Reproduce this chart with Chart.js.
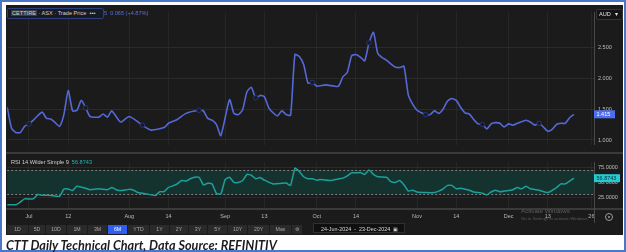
<!DOCTYPE html>
<html>
<head>
<meta charset="utf-8">
<script src="https://cdn.jsdelivr.net/npm/chart.js@4/dist/chart.umd.min.js"></script>
<style>
  body { margin: 0; background: #fff; }
  #wrap { position: relative; width: 626px; height: 252px; overflow: hidden; font-family: "Liberation Sans", Arial, sans-serif; }
  #frame { position: absolute; left: 0; top: 0; width: 622px; height: 248px; border: 2px solid #4a78c8; }
  #panel { position: absolute; left: 6px; top: 5px; width: 617px; height: 230px; background: #1b1b1b; }
  canvas { position: absolute; }
  .abs { position: absolute; white-space: nowrap; }
  .sep { position: absolute; left: 6px; width: 617px; height: 2px; background: #3a3a3a; }
  #legend { left: 7px; top: 8px; width: 92px; height: 9px; border: 1px solid #2b3f80; border-radius: 2px;
            background: #171a22; color: #d0d0d0; font-size: 5.6px; line-height: 9px; padding-left: 3px; z-index: 3; }
  #legend .hl { background: #3b3b3b; padding: 0 1px; }
  .chg { color: #5a70e0; font-size: 5.6px; line-height: 9px; }
  #aud { left: 596px; top: 9px; width: 23px; height: 9px; border: 1px solid #333; border-radius: 2px; background: #141414;
         color: #e0e0e0; font-size: 5.6px; line-height: 9px; padding-left: 2px; box-sizing: content-box; }
  #rsiLeg { left: 11px; top: 159px; font-size: 5.6px; color: #cfcfcf; }
  #rsiLeg span { color: #20b8b8; margin-left: 3px; }
  #buttons { left: 7px; top: 225px; height: 9px; display: flex; gap: 1px; }
  #buttons div { height: 9px; line-height: 9px; background: #2a2a2a; color: #a8a8a8; font-size: 5.2px; text-align: center; }
  #buttons div.on { background: #2f5ff0; color: #fff; }
  #range { left: 313px; top: 223px; width: 92px; height: 10px; border: 1px solid #303030; background: #101010;
           color: #d8d8d8; font-size: 5.4px; line-height: 10px; padding-left: 7px; box-sizing: border-box; }
  #gear { left: 605px; top: 213px; width: 6px; height: 6px; border: 1px solid #9a9a9a; border-radius: 50%; }
  #gear:after { content: ""; position: absolute; left: 2px; top: 2px; width: 2px; height: 2px; border-radius: 50%; background: #9a9a9a; }
  #win1 { left: 521px; top: 207px; font-size: 6.2px; color: #5e5e5e; }
  #win2 { left: 521px; top: 216px; font-size: 4.3px; color: #5a5a5a; }
  #caption { left: 6px; top: 237px; font-family: Lato, "Liberation Sans", sans-serif; font-weight: bold; font-style: italic;
             font-size: 13px; color: #1d1d1d; transform-origin: 0 0; }
</style>
</head>
<body>
<div id="wrap">
  <div id="frame"></div>
  <div id="panel"></div>
  <canvas id="priceChart" width="617" height="147" style="left:6px;top:5px"></canvas>
  <canvas id="rsiChart" width="617" height="68" style="left:6px;top:155px"></canvas>
  <div class="sep" style="top:152px"></div>
  <div class="sep" style="top:208px;height:2px"></div>
  <div class="abs" style="left:594px;top:208px;width:1px;height:15px;background:#4a4a4a"></div>

  <div class="abs chg" style="left:88px;top:9px;width:19px;text-align:right">1.415</div>
  <div class="abs chg" style="left:110px;top:9px">0.065 (+4.87%)</div>
  <div class="abs" id="legend"><span class="hl">CETTIRE</span> · ASX · Trade Price &nbsp;•••</div>
  <div class="abs" id="aud">AUD &nbsp;&nbsp;▾</div>
  <div class="abs" id="rsiLeg">RSI 14 Wilder Simple 9<span>56.8743</span></div>

  <div class="abs" id="win1">Activate Windows</div>
  <div class="abs" id="win2">Go to Settings to activate Windows.</div>
  <div class="abs" id="gear"></div>

  <div class="abs" id="buttons">
    <div style="width:21px">1D</div><div style="width:16px">5D</div><div style="width:20px">10D</div>
    <div style="width:20px">1M</div><div style="width:19px">3M</div><div class="on" style="width:19px">6M</div>
    <div style="width:21px">YTD</div><div style="width:19px">1Y</div><div style="width:18px">2Y</div>
    <div style="width:18px">3Y</div><div style="width:19px">5Y</div><div style="width:19px">10Y</div>
    <div style="width:21px">20Y</div><div style="width:21px">Max</div><div style="width:10px">⚙</div>
  </div>
  <div class="abs" id="range">24-Jun-2024 &nbsp;-&nbsp; 23-Dec-2024 &nbsp;▣</div>

  <div class="abs" id="caption">CTT Daily Technical Chart, Data Source: REFINITIV</div>
</div>

<script>
const FONT = '"Liberation Sans", Arial, sans-serif';

// x = trading day index counted from 24-Jun-2024
const tickDays   = [5, 14, 28, 37, 50, 59, 71, 80, 94, 103, 115, 124, 134];
const tickLabels = ['Jul', '12', 'Aug', '14', 'Sep', '13', 'Oct', '14', 'Nov', '14', 'Dec', '13', '26'];

const priceTicks = [1.0, 1.5, 2.0, 2.5];
const rsiTicks   = [25, 50, 75];
const rsiBand    = [30, 70];

const lastPrice = 1.415;
const lastRsi   = 56.8743;

// small event markers on the price line
const markerDays = [5, 18, 31, 44, 57, 70, 83, 96, 109, 122];

const priceDays = [0, 1, 2, 3, 4, 5, 6, 8, 9, 10, 11, 12, 13, 14, 15, 16, 17, 18, 19, 21, 22, 23, 24, 26, 28,
  31, 33, 36, 37, 39, 41, 44, 45, 46, 47, 48, 49, 51, 52, 53, 54, 55, 56, 57, 58, 59, 60, 61, 62, 63, 64, 65,
  66, 67, 68, 69, 70, 71, 73, 75, 76, 77, 78, 79, 80, 81, 82, 83, 84, 85, 86, 87, 88, 89, 90, 91, 92, 93, 94,
  95, 96, 97, 98, 99, 100, 101, 102, 103, 104, 105, 106, 107, 108, 109, 110, 111, 112, 113, 114, 115, 116, 117,
  119, 120, 121, 122, 123, 124, 125, 126, 127, 128, 129, 130];
const priceValues = [1.53, 1.19, 1.12, 1.12, 1.22, 1.26, 1.32, 1.45, 1.35, 1.34, 1.28, 1.22, 1.41, 1.80, 1.47, 1.48, 1.64, 1.52, 1.38, 1.37, 1.42, 1.37, 1.47, 1.29, 1.38,
  1.24, 1.16, 1.20, 1.27, 1.33, 1.43, 1.48, 1.47, 1.35, 1.32, 1.25, 1.07, 1.65, 1.43, 1.41, 1.49, 1.78, 1.85, 1.68, 1.72, 1.70, 1.52, 1.44, 1.39, 1.47, 1.41, 1.40,
  2.38, 2.35, 2.22, 1.92, 1.93, 1.87, 1.89, 1.87, 1.87, 2.02, 2.09, 2.36, 2.38, 2.34, 2.28, 2.57, 2.74, 2.40, 2.33, 2.29, 2.23, 2.18, 2.17, 2.19, 1.73, 1.58, 1.48,
  1.44, 1.41, 1.41, 1.47, 1.43, 1.50, 1.63, 1.67, 1.64, 1.53, 1.44, 1.42, 1.33, 1.26, 1.25, 1.18, 1.26, 1.28, 1.27, 1.21, 1.26, 1.24, 1.27,
  1.32, 1.29, 1.24, 1.27, 1.21, 1.14, 1.17, 1.25, 1.27, 1.27, 1.36, 1.415];

const rsiDays = [0, 2, 3, 4, 6, 7, 8, 10, 12, 13, 14, 15, 16, 18, 19, 21, 23, 24, 25, 26, 28, 29, 30, 32, 34, 35, 36,
  37, 38, 39, 40, 41, 42, 43, 44, 45, 46, 47, 48, 49, 50, 51, 52, 53, 54, 55, 56, 57, 58, 59, 61, 63, 64, 65,
  66, 67, 68, 69, 70, 71, 72, 74, 76, 77, 78, 79, 80, 81, 82, 83, 84, 85, 87, 88, 89, 90, 91, 92, 93, 94, 96,
  98, 99, 100, 101, 102, 103, 104, 106, 107, 109, 110, 111, 112, 113, 114, 116, 117, 118, 119, 120, 122, 124,
  126, 127, 128, 130];
const rsiValues = [13.1, 13, 17.4, 22.7, 22.7, 29.9, 28.9, 28.4, 27, 38.9, 38.9, 36.4, 43.6, 40.3, 37.9, 39.3, 37.9, 41.3, 37.9, 36.4, 38.4, 37, 33.1, 30.7, 28.4, 34.6, 34.6,
  41.7, 44.1, 47.4, 53.1, 52.1, 56, 58.4, 58.4, 46, 48.4, 47.4, 31.7, 30.7, 54.6, 58.4, 49.9, 49.9, 53.1, 63.1, 61.7, 56, 57.9, 53.6, 47.4, 48.4, 48.9, 45,
  73.6, 67.9, 59.3, 56, 56, 53.6, 54.6, 53.1, 55.6, 57, 60.7, 65.6, 65.6, 66.4, 63.1, 70.3, 63.1, 59.3, 58.4, 51.3, 49.9, 53.1, 46, 35.6, 37, 34.1, 33.1,
  33.1, 35.6, 39.3, 45, 45, 39.3, 40.3, 37, 34.1, 32.1, 29.3, 34.1, 37, 34.6, 35.6, 37.9, 41.3, 39.3, 43.6, 39.3, 37, 33.1,
  41.3, 47.4, 47.4, 56.87];

function xScale(showLabels) {
  return {
    type: 'linear', min: 0, max: 134.6,
    afterBuildTicks: s => { s.ticks = tickDays.map(v => ({ value: v })); },
    afterFit: s => { s.height = showLabels ? 14 : 0; },
    grid: { color: '#272727', drawTicks: false },
    border: { display: false },
    ticks: {
      display: showLabels, autoSkip: false, maxRotation: 0, padding: 4, color: '#b8b8b8',
      font: { size: 5.5, family: FONT }, callback: (v, i) => tickLabels[i]
    }
  };
}

function yScale(min, max, ticks, digits) {
  return {
    position: 'right', min, max,
    afterBuildTicks: s => { s.ticks = ticks.map(v => ({ value: v })); },
    afterFit: s => { s.width = 29; },
    grid: { color: '#2a2a2a', drawTicks: false },
    border: { color: '#4a4a4a' },
    ticks: { padding: 4, color: '#bdbdbd', font: { size: 5.5, family: FONT }, callback: v => v.toFixed(digits) }
  };
}

function tagPlugin(value, text, bg, fg, w) {
  return {
    id: 'lastTag',
    afterDraw(chart) {
      const { ctx, chartArea, scales } = chart;
      const y = scales.y.getPixelForValue(value);
      ctx.save();
      ctx.fillStyle = bg;
      ctx.fillRect(chartArea.right, y - 4, w, 8);
      ctx.fillStyle = fg;
      ctx.font = '5.5px ' + FONT;
      ctx.textBaseline = 'middle';
      ctx.fillText(text, chartArea.right + 2.5, y + 0.5);
      ctx.restore();
    }
  };
}

// shaded 30-70 zone with dashed edges
const bandPlugin = {
  id: 'rsiBand',
  beforeDatasetsDraw(chart) {
    const { ctx, chartArea, scales } = chart;
    const yTop = scales.y.getPixelForValue(rsiBand[1]);
    const yBot = scales.y.getPixelForValue(rsiBand[0]);
    ctx.save();
    ctx.fillStyle = '#14332e';
    ctx.fillRect(chartArea.left, yTop, chartArea.right - chartArea.left, yBot - yTop);
    ctx.strokeStyle = '#808080';
    ctx.lineWidth = 1;
    ctx.setLineDash([2, 2]);
    [yTop, yBot].forEach(y => {
      ctx.beginPath();
      ctx.moveTo(chartArea.left, Math.round(y) + 0.5);
      ctx.lineTo(chartArea.right, Math.round(y) + 0.5);
      ctx.stroke();
    });
    ctx.restore();
  }
};

const common = {
  responsive: false,
  animation: false,
  devicePixelRatio: 1,
  events: [],
  layout: { padding: { left: 1.2, right: 0, top: 0, bottom: 0 } },
  plugins: { legend: { display: false }, tooltip: { enabled: false } }
};

new Chart(document.getElementById('priceChart'), {
  type: 'line',
  data: {
    datasets: [{
      data: priceDays.map((d, i) => ({ x: d, y: priceValues[i] })),
      borderColor: '#5468d8',
      borderWidth: 1.6,
      tension: 0.2,
      pointRadius: c => (c.raw && markerDays.includes(c.raw.x)) ? 2.3 : 0,
      pointBackgroundColor: '#1b1b1b',
      pointBorderColor: '#25337c',
      pointBorderWidth: 1
    }]
  },
  options: Object.assign({}, common, {
    scales: { x: xScale(false), y: yScale(0.924, 3.063, priceTicks, 3) }
  }),
  plugins: [tagPlugin(lastPrice, lastPrice.toFixed(3), '#4d6ef0', '#ffffff', 21)]
});

new Chart(document.getElementById('rsiChart'), {
  type: 'line',
  data: {
    datasets: [{
      data: rsiDays.map((d, i) => ({ x: d, y: rsiValues[i] })),
      borderColor: '#1f9f9b',
      borderWidth: 1.5,
      tension: 0.15,
      pointRadius: 0
    }]
  },
  options: Object.assign({}, common, {
    scales: { x: xScale(true), y: yScale(6, 83.1, rsiTicks, 4) }
  }),
  plugins: [bandPlugin, tagPlugin(lastRsi, lastRsi.toFixed(4), '#22ccd4', '#0f2a30', 26)]
});

// squeeze caption to the width it has in the source picture
const cap = document.getElementById('caption');
cap.style.transform = 'scaleX(' + (271 / cap.offsetWidth) + ')';
</script>
</body>
</html>
